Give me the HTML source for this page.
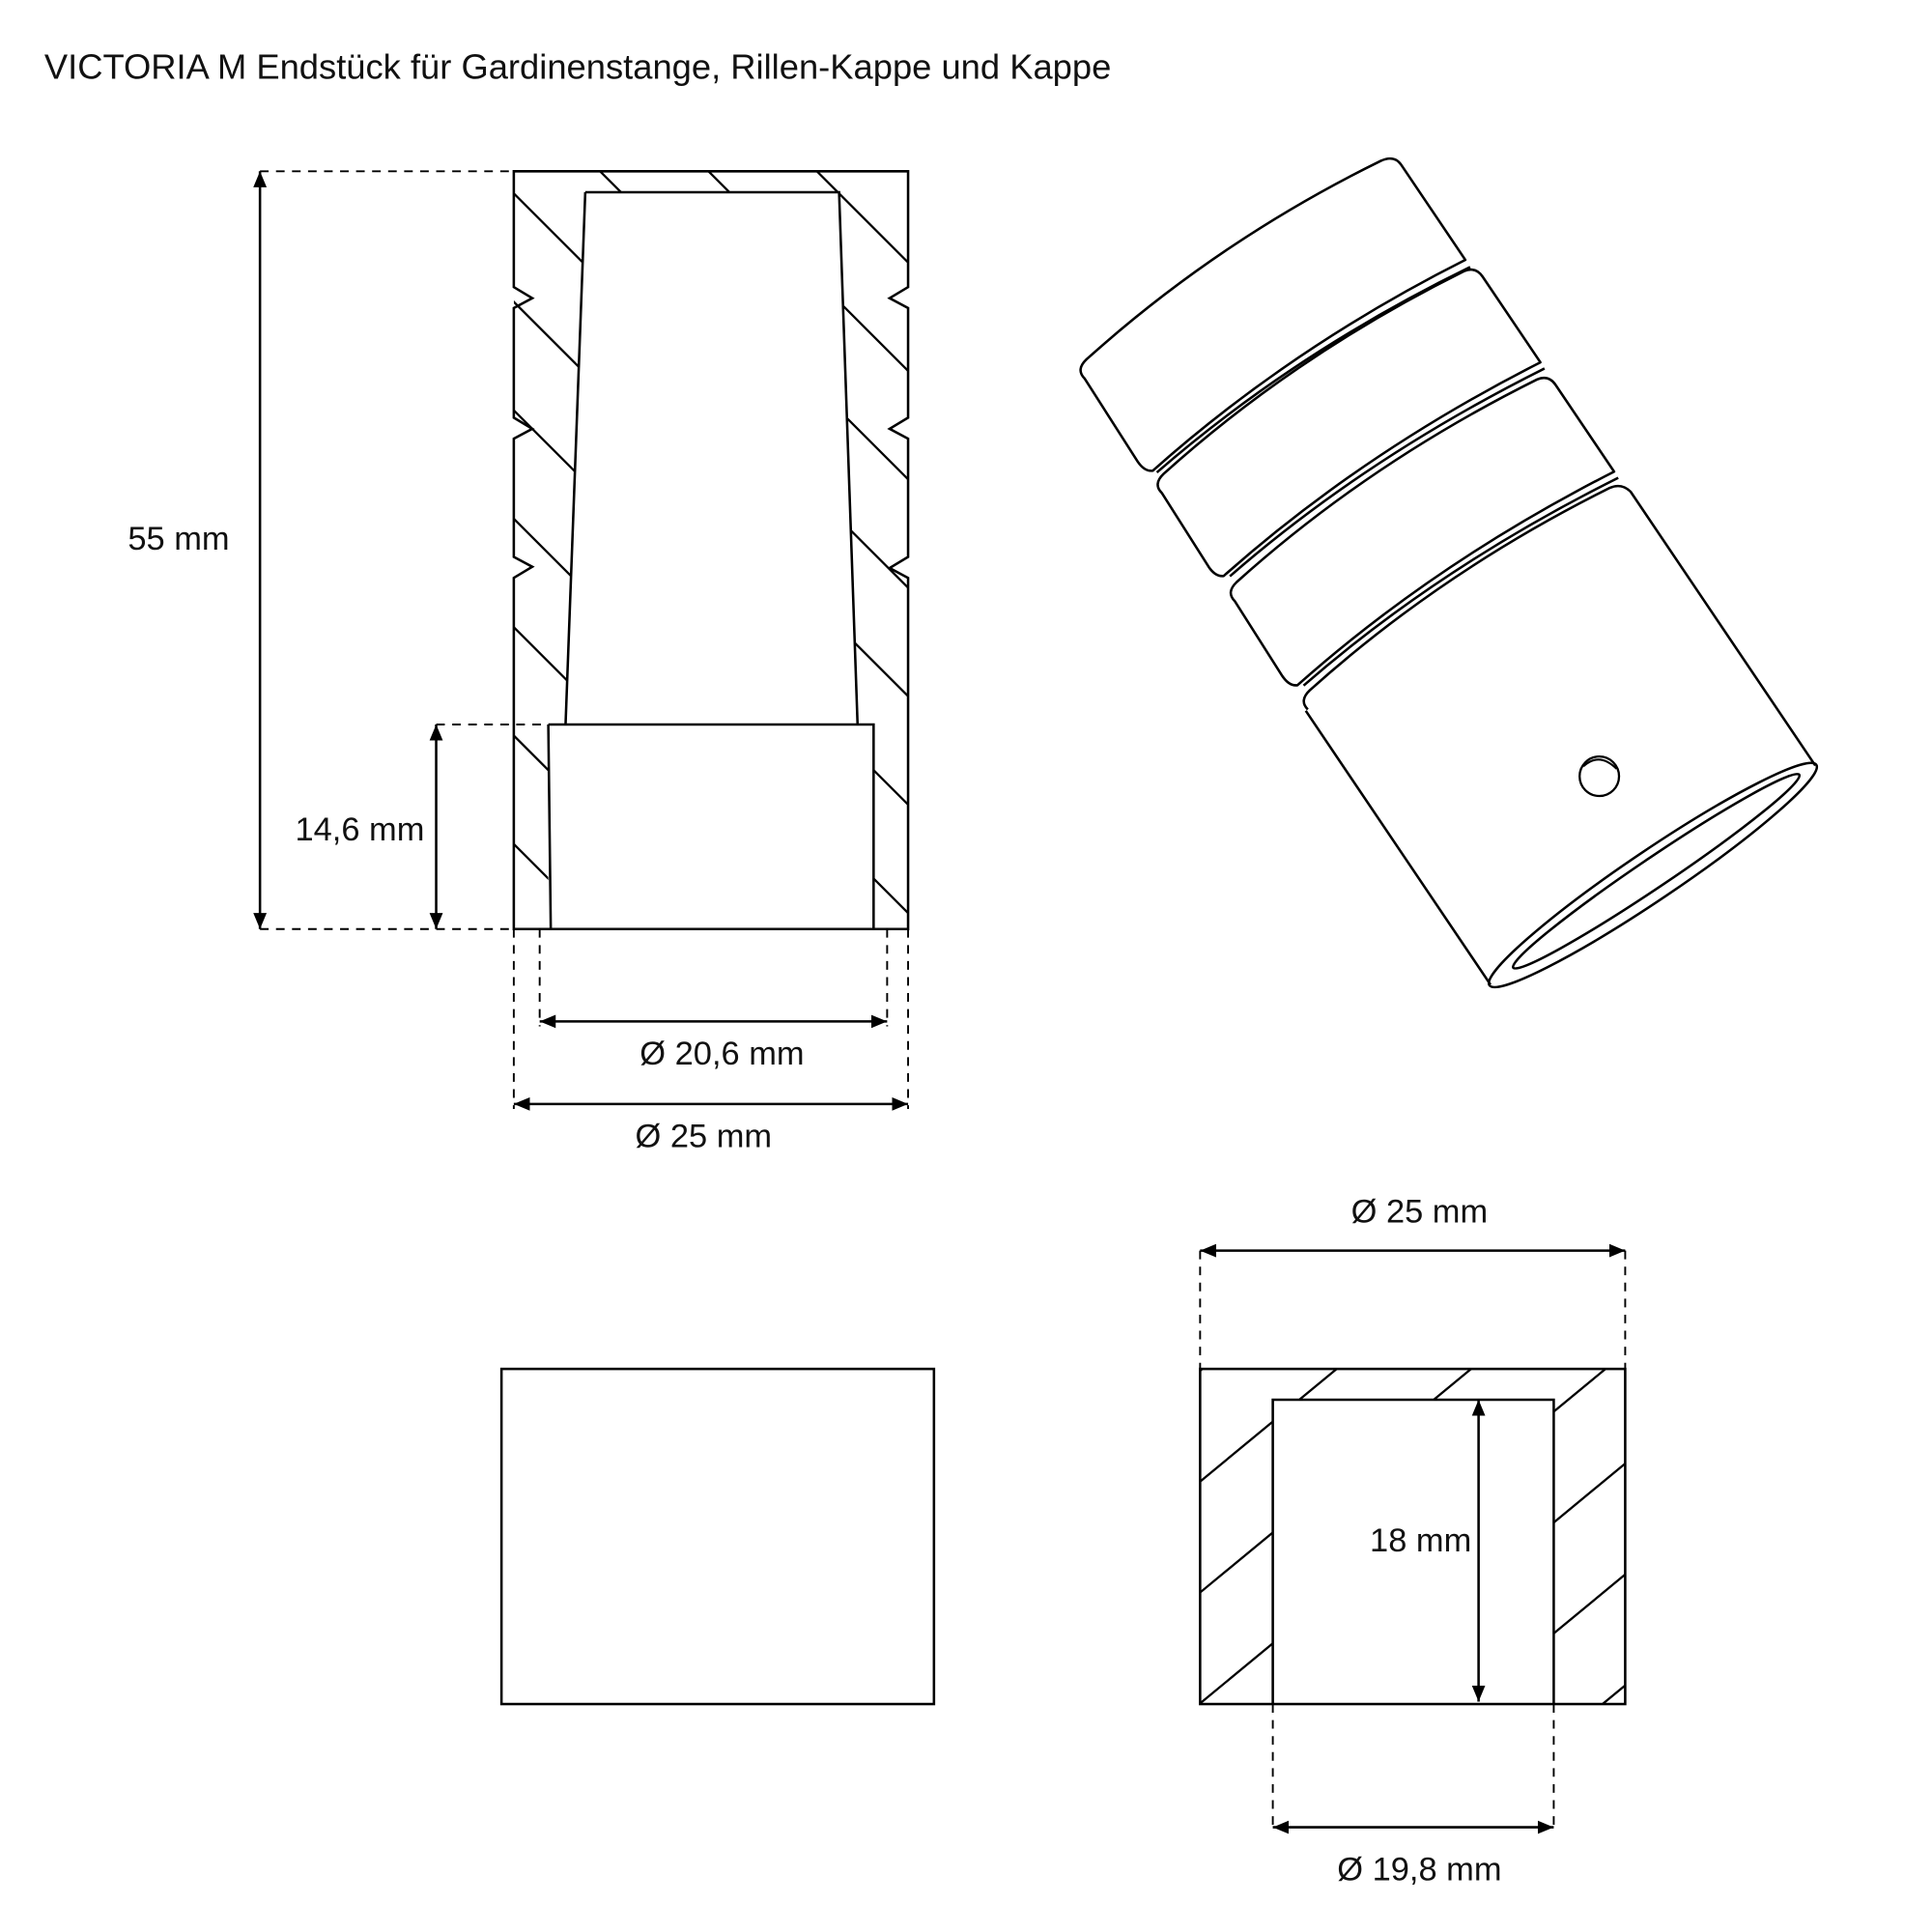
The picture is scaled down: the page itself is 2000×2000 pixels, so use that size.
<!DOCTYPE html>
<html><head><meta charset="utf-8"><style>
html,body{margin:0;padding:0;background:#fff;overflow:hidden;width:2000px;height:2000px}
svg{display:block}
text{font-family:"Liberation Sans",sans-serif;fill:#111}
</style></head><body>
<svg width="2000" height="2000" viewBox="0 0 1568 1568" xmlns="http://www.w3.org/2000/svg">
<defs>
<marker id="ar" viewBox="0 0 12 10" refX="12" refY="5" markerWidth="13" markerHeight="11" orient="auto-start-reverse" markerUnits="userSpaceOnUse"><path d="M0,0 L12,5 L0,10 Z" fill="#000"/></marker>
<clipPath id="wallL"><path clip-rule="evenodd" d="M417,139 L737,139 L737,754 L417,754 Z M475,156 L681,156 L696,588 L709,588 L709,754 L445,754 L445,588 L459,588 Z"/></clipPath>
<clipPath id="wallC"><path clip-rule="evenodd" d="M974,1111 L1319,1111 L1319,1383 L974,1383 Z M1033,1136 L1261,1136 L1261,1383 L1033,1383 Z"/></clipPath>
</defs>
<rect width="1568" height="1568" fill="#fff"/>
<text x="36" y="64" font-size="28.5">VICTORIA M Endstück für Gardinenstange, Rillen-Kappe und Kappe</text>

<g fill="none" stroke="#000" stroke-width="2">
<path d="M417,139 L737,139 L737,233 L722,242 L737,250 L737,339 L722,348 L737,356 L737,452 L722,461 L737,469 L737,754 L417,754 L417,469 L432,460 L417,452 L417,356 L432,348 L417,339 L417,250 L432,242 L417,233 Z"/>
<path d="M475,156 L681,156 L696,588 M459,588 L475,156"/>
<path d="M445,588 L709,588 L709,754 M445,588 L447,754"/>
<g clip-path="url(#wallL)" stroke-width="1.8">
<path d="M300,40 L1100,840 M300,128 L1100,928 M300,216 L1100,1016 M300,304 L1100,1104 M300,392 L1100,1192 M300,480 L1100,1280 M300,568 L1100,1368 M300,656 L1100,1456 M300,744 L1100,1544 M300,-48 L1100,752 M300,-136 L1100,664 M300,-224 L1100,576 M300,-312 L1100,488 M300,-400 L1100,400 M300,-488 L1100,312 M300,-576 L1100,224 M300,-664 L1100,136 M300,-752 L1100,48"/>
</g>
<path d="M211,139 L211,754" marker-start="url(#ar)" marker-end="url(#ar)"/>
<path d="M211,139 L417,139 M211,754 L417,754 M354,588 L445,588" stroke-dasharray="7,6" stroke-width="1.5"/>
<path d="M354,588 L354,754" marker-start="url(#ar)" marker-end="url(#ar)"/>
<path d="M417,754 L417,900 M737,754 L737,900 M438,754 L438,833 M720,754 L720,833" stroke-dasharray="7,6" stroke-width="1.5"/>
<path d="M438,829 L720,829" marker-start="url(#ar)" marker-end="url(#ar)"/>
<path d="M417,896 L737,896" marker-start="url(#ar)" marker-end="url(#ar)"/>

<rect x="407" y="1111" width="351" height="272"/>

<rect x="974" y="1111" width="345" height="272"/>
<path d="M1033,1383 L1033,1136 L1261,1136 L1261,1383"/>
<g clip-path="url(#wallC)" stroke-width="1.8">
<path d="M960,1214 L1360,884 M960,1304 L1360,974 M960,1394 L1360,1064 M960,1484 L1360,1154 M960,1574 L1360,1244 M960,1664 L1360,1334 M960,1754 L1360,1424 M960,1124 L1360,794"/>
</g>
<path d="M974,1015 L974,1111 M1319,1015 L1319,1111 M1033,1383 L1033,1485 M1261,1383 L1261,1485" stroke-dasharray="7,6" stroke-width="1.5"/>
<path d="M974,1015 L1319,1015" marker-start="url(#ar)" marker-end="url(#ar)"/>
<path d="M1200,1136 L1200,1381" marker-start="url(#ar)" marker-end="url(#ar)"/>
<path d="M1033,1483 L1261,1483" marker-start="url(#ar)" marker-end="url(#ar)"/>

<g transform="translate(873,300) rotate(-34)" stroke-linejoin="round" stroke-width="2">
<path d="M2,10 Q0,0 12,-2 Q155,-22 300,-2 Q312,0 312,10 L312,103 Q155,83 6,103 Q0,100 0,90 Z"/>
<path d="M8,106 Q155,88 312,110"/>
<path d="M2,122 Q0,112 12,110 Q155,90 306,110 Q316,112 316,122 L316,206 Q155,186 6,206 Q0,203 0,193 Z"/>
<path d="M10,209 Q155,191 316,212"/>
<path d="M2,228 Q0,218 12,216 Q155,196 306,216 Q316,218 316,228 L316,313 Q155,293 6,313 Q0,310 0,300 Z"/>
<path d="M10,316 Q155,298 316,319"/>
<path d="M2,334 Q0,324 12,322 Q155,302 306,322 Q316,324 318,334 L318,602 M0,334 L0,602"/>
<ellipse cx="159" cy="602" rx="160" ry="20"/>
<ellipse cx="163" cy="601" rx="140" ry="12"/>
</g>
<circle cx="1298" cy="630" r="16" stroke-width="1.8"/>
<path d="M1285,622 Q1298,610 1312,624" stroke-width="1.6"/>
</g>

<g font-size="27">
<text x="145" y="446" text-anchor="middle">55 mm</text>
<text x="292" y="682" text-anchor="middle">14,6 mm</text>
<text x="586" y="864" text-anchor="middle">Ø 20,6 mm</text>
<text x="571" y="931" text-anchor="middle">Ø 25 mm</text>
<text x="1152" y="992" text-anchor="middle">Ø 25 mm</text>
<text x="1153" y="1259" text-anchor="middle">18 mm</text>
<text x="1152" y="1526" text-anchor="middle">Ø 19,8 mm</text>
</g>
</svg>
</body></html>
